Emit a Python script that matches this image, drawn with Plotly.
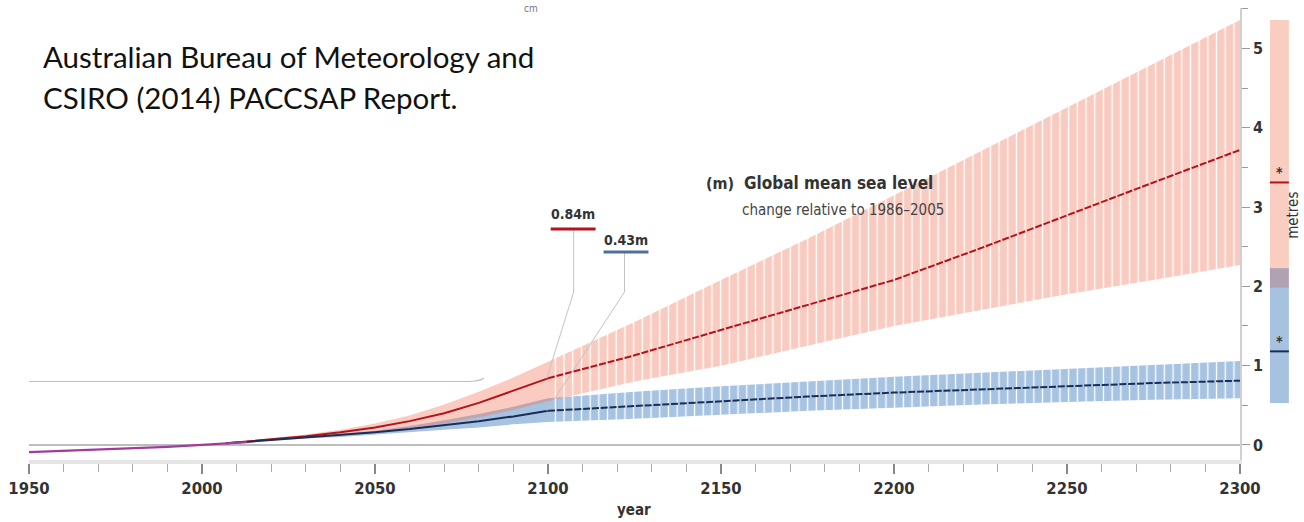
import plotly.graph_objects as go

# ---- observed record (m, relative to 1986-2005) ----
hist_years = [1950, 1960, 1970, 1980, 1990, 2000, 2007, 2013]
hist_level = [-0.09, -0.075, -0.06, -0.045, -0.025, 0.0, 0.02, 0.035]

# ---- projections to 2100 ----
near_years = [2007, 2020, 2030, 2040, 2050, 2060, 2070, 2080, 2090, 2100]
high_med_near = [0.02, 0.07, 0.11, 0.16, 0.22, 0.30, 0.40, 0.53, 0.68, 0.84]
high_hi_near = [0.02, 0.08, 0.13, 0.19, 0.27, 0.37, 0.51, 0.67, 0.85, 1.05]
high_lo_near = [0.02, 0.06, 0.09, 0.12, 0.16, 0.21, 0.27, 0.35, 0.44, 0.55]
low_med_near = [0.02, 0.06, 0.09, 0.12, 0.16, 0.20, 0.25, 0.30, 0.36, 0.43]
low_hi_near = [0.02, 0.07, 0.10, 0.14, 0.18, 0.24, 0.31, 0.39, 0.48, 0.59]
low_lo_near = [0.02, 0.05, 0.08, 0.10, 0.13, 0.16, 0.19, 0.22, 0.26, 0.29]

# ---- projections 2100-2300 ----
far_years = [2100, 2125, 2150, 2175, 2200, 2225, 2250, 2275, 2300]
high_med_far = [0.84, 1.13, 1.45, 1.77, 2.08, 2.48, 2.90, 3.31, 3.72]
high_hi_far = [1.05, 1.55, 2.08, 2.60, 3.15, 3.70, 4.25, 4.80, 5.36]
high_lo_far = [0.55, 0.80, 1.00, 1.25, 1.50, 1.70, 1.90, 2.08, 2.27]
low_med_far = [0.43, 0.49, 0.55, 0.61, 0.66, 0.70, 0.74, 0.78, 0.81]
low_hi_far = [0.59, 0.67, 0.74, 0.80, 0.86, 0.91, 0.96, 1.01, 1.06]
low_lo_far = [0.29, 0.33, 0.38, 0.43, 0.47, 0.51, 0.54, 0.57, 0.59]

# ---- 2300 range bars beside the axis ----
high_range_2300 = [2.23, 5.36]
low_range_2300 = [0.53, 1.98]
high_star_2300 = 3.31
low_star_2300 = 1.18

label_2100 = {"high": 0.84, "low": 0.43}

x_ticks = [1950, 2000, 2050, 2100, 2150, 2200, 2250, 2300]
y_ticks = [0, 1, 2, 3, 4, 5]

RED_BAND = "rgba(240,110,80,0.36)"
BLUE_BAND = "#a7c3e2"
RED_LINE = "#b3141c"
BLUE_LINE = "#1b2d57"
OVERLAP = "#b0a2b2"
TXT = "#333333"
FONT = "DejaVu Sans Condensed"

# plot-area geometry (pixels) used for placing text
L, R, T, B = 26, 1240, 8, 460


def px(x):
    return (x - L) / (R - L)


def py(y):
    return (B - y) / (B - T)


def band(xs, lo, hi, color, striped):
    kw = dict(
        x=list(xs) + list(xs)[::-1],
        y=list(hi) + list(lo)[::-1],
        mode="lines",
        line=dict(width=0),
        fill="toself",
        fillcolor=color,
        hoverinfo="skip",
        showlegend=False,
    )
    if striped:
        kw["fillpattern"] = dict(
            shape="|", size=8.7, solidity=0.15,
            fgcolor="white", bgcolor=color, fgopacity=1,
        )
    return go.Scatter(**kw)


fig = go.Figure()

# uncertainty bands
fig.add_trace(band(near_years, low_lo_near, low_hi_near, BLUE_BAND, False))
fig.add_trace(band(far_years, low_lo_far, low_hi_far, BLUE_BAND, True))
fig.add_trace(band(near_years, high_lo_near, high_hi_near, RED_BAND, False))
fig.add_trace(band(far_years, high_lo_far, high_hi_far, RED_BAND, True))

# median lines
fig.add_trace(go.Scatter(x=near_years, y=high_med_near, mode="lines",
                         line=dict(color=RED_LINE, width=2), showlegend=False))
fig.add_trace(go.Scatter(x=far_years, y=high_med_far, mode="lines",
                         line=dict(color=RED_LINE, width=2, dash="7px,1.8px"),
                         showlegend=False))
fig.add_trace(go.Scatter(x=near_years, y=low_med_near, mode="lines",
                         line=dict(color=BLUE_LINE, width=2), showlegend=False))
fig.add_trace(go.Scatter(x=far_years, y=low_med_far, mode="lines",
                         line=dict(color=BLUE_LINE, width=2, dash="7px,1.8px"),
                         showlegend=False))

# observed record
fig.add_trace(go.Scatter(x=hist_years, y=hist_level, mode="lines",
                         line=dict(color="#a03c9c", width=2.2), showlegend=False))

shapes = []
# bracket line left over from the source panel
shapes.append(dict(type="path", xref="x", yref="y",
                   path="M 1950,0.80 L 2077,0.80 Q 2080,0.80 2081.5,0.84",
                   line=dict(color="#bdbdbd", width=1.2)))

# leader lines for the 2100 values
shapes.append(dict(type="path", xref="paper", yref="paper",
                   path=f"M {px(572)},{py(230)} L {px(572)},{py(292)} L {px(545)},{py(445 - label_2100['high'] * 79.3)}",
                   line=dict(color="#c4c4c4", width=1)))
shapes.append(dict(type="path", xref="paper", yref="paper",
                   path=f"M {px(623)},{py(253)} L {px(623)},{py(292)} L {px(545)},{py(445 - label_2100['low'] * 79.3)}",
                   line=dict(color="#c4c4c4", width=1)))
shapes.append(dict(type="line", xref="paper", yref="paper",
                   x0=px(549), x1=px(594), y0=py(229), y1=py(229),
                   line=dict(color=RED_LINE, width=3)))
shapes.append(dict(type="line", xref="paper", yref="paper",
                   x0=px(602), x1=px(647), y0=py(252), y1=py(252),
                   line=dict(color="#4f6f9c", width=3)))

# 2300 range bars
bx0, bx1 = px(1270), px(1289)
shapes.append(dict(type="rect", xref="paper", yref="y", x0=bx0, x1=bx1,
                   y0=high_range_2300[0], y1=high_range_2300[1],
                   fillcolor="#f9cdbf", line=dict(width=0)))
shapes.append(dict(type="rect", xref="paper", yref="y", x0=bx0, x1=bx1,
                   y0=low_range_2300[0], y1=low_range_2300[1],
                   fillcolor="#a7c2e0", line=dict(width=0)))
shapes.append(dict(type="rect", xref="paper", yref="y", x0=bx0, x1=bx1,
                   y0=low_range_2300[1], y1=high_range_2300[0],
                   fillcolor=OVERLAP, line=dict(width=0)))
shapes.append(dict(type="line", xref="paper", yref="y", x0=bx0, x1=bx1,
                   y0=high_star_2300, y1=high_star_2300,
                   line=dict(color=RED_LINE, width=2)))
shapes.append(dict(type="line", xref="paper", yref="y", x0=bx0, x1=bx1,
                   y0=low_star_2300, y1=low_star_2300,
                   line=dict(color=BLUE_LINE, width=2)))

annotations = [
    dict(x=px(38), y=py(56), text="Australian Bureau of Meteorology and",
         font=dict(family="Lato", size=29.5, color="#111")),
    dict(x=px(38), y=py(98), text="CSIRO (2014) PACCSAP Report.",
         font=dict(family="Lato", size=29.5, color="#111")),
    dict(x=px(520), y=py(8), text="cm", font=dict(family=FONT, size=10, color="#777")),
    dict(x=px(703), y=py(183), text="<b>(m)</b>",
         font=dict(family=FONT, size=16, color=TXT)),
    dict(x=px(741), y=py(183), text="<b>Global mean sea level</b>",
         font=dict(family=FONT, size=17, color=TXT)),
    dict(x=px(739), y=py(210), text="change relative to 1986–2005",
         font=dict(family=FONT, size=15, color="#444")),
    dict(x=px(547), y=py(214), text=f"<b>{label_2100['high']:.2f}m</b>",
         font=dict(family=FONT, size=14, color=TXT)),
    dict(x=px(600), y=py(240), text=f"<b>{label_2100['low']:.2f}m</b>",
         font=dict(family=FONT, size=14, color=TXT)),
    dict(x=px(1279.5), y=high_star_2300 + 0.13, yref="y", xanchor="center",
         text="<b>*</b>", font=dict(family=FONT, size=14, color=TXT)),
    dict(x=px(1279.5), y=low_star_2300 + 0.13, yref="y", xanchor="center",
         text="<b>*</b>", font=dict(family=FONT, size=14, color=TXT)),
    dict(x=px(1293), y=py(215), text="metres", textangle=-90, xanchor="center",
         font=dict(family=FONT, size=15, color=TXT)),
    dict(x=px(632), y=py(510), text="<b>year</b>", xanchor="center",
         font=dict(family=FONT, size=15, color=TXT)),
]
for a in annotations:
    a.setdefault("xref", "paper")
    a.setdefault("yref", "paper")
    a.setdefault("xanchor", "left")
    a.setdefault("yanchor", "middle")
    a["showarrow"] = False

fig.update_layout(
    width=1304, height=522,
    margin=dict(l=L, r=1304 - R, t=T, b=522 - B),
    paper_bgcolor="white", plot_bgcolor="white",
    shapes=shapes, annotations=annotations,
    showlegend=False,
)
fig.update_xaxes(
    range=[1950, 2300], tickvals=x_ticks, showgrid=False, zeroline=False,
    showline=True, linecolor="#e6e6e6", linewidth=4,
    ticks="outside", ticklen=10, tickwidth=1.5, tickcolor="#888",
    minor=dict(dtick=10, ticks="outside", ticklen=8, tickwidth=1, tickcolor="#aaa"),
    tickfont=dict(family=FONT, size=16.5, color=TXT, weight="bold"),
)
fig.update_yaxes(
    range=[-0.19, 5.51], side="right", tickvals=y_ticks, showgrid=False,
    zeroline=True, zerolinecolor="#bdbdbd", zerolinewidth=1.5,
    showline=True, linecolor="#d0d0d0", linewidth=1.5,
    ticks="outside", ticklen=8, tickwidth=1, tickcolor="#999",
    minor=dict(dtick=0.5, ticks="outside", ticklen=6, tickcolor="#999"),
    tickfont=dict(family=FONT, size=16, color=TXT, weight="bold"),
)

fig.write_html("out.html")
